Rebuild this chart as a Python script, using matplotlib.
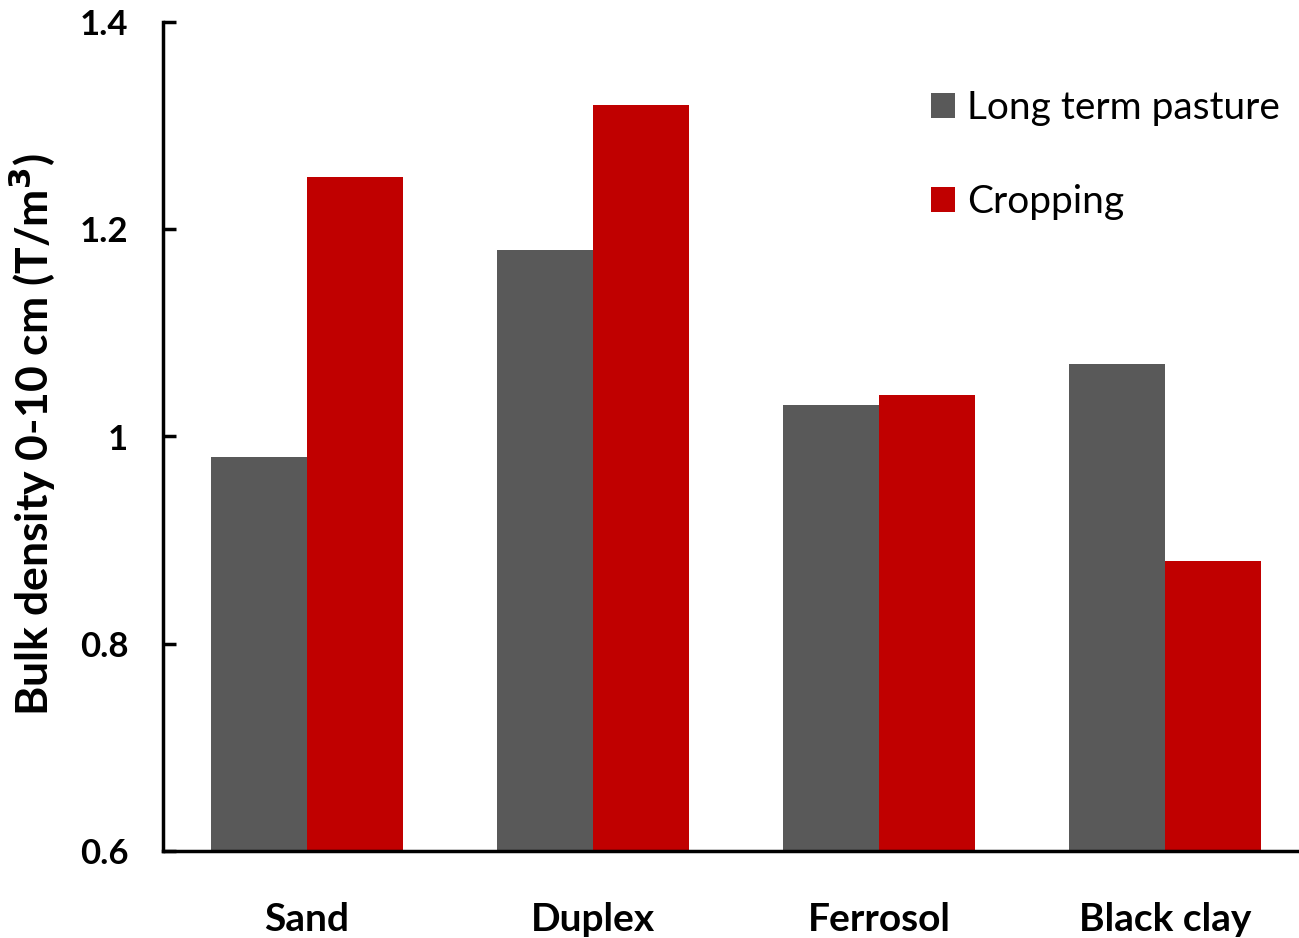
import numpy as np
import matplotlib
matplotlib.use('Agg')
import matplotlib.pyplot as plt

# data
soils = ['Sand', 'Duplex', 'Ferrosol', 'Black clay']
pasture = [0.98, 1.18, 1.03, 1.07]
cropping = [1.25, 1.32, 1.04, 0.88]

plt.rcParams['font.family'] = ['Lato', 'DejaVu Sans']

fig = plt.figure(figsize=(12.99, 9.38), dpi=100)
ax = fig.add_axes([163/1299, 87/938, 1 - 163/1299, 829/938])

x = np.arange(len(soils))
w = 0.336
ax.bar(x - w/2, pasture, w, bottom=0, color='#595959', label='Long term pasture')
ax.bar(x + w/2, cropping, w, bottom=0, color='#C00000', label='Cropping')

ax.set_ylim(0.6, 1.4)
ax.set_xlim(-0.503, 3.469)
ax.set_yticks([0.6, 0.8, 1.0, 1.2, 1.4])
ax.set_yticklabels(['0.6', '0.8', '1', '1.2', '1.4'])
ax.set_xticks(x)
ax.set_xticklabels(soils)

for s in ['top', 'right']:
    ax.spines[s].set_visible(False)
for s in ['left', 'bottom']:
    ax.spines[s].set_linewidth(2.5)

ax.tick_params(axis='y', direction='in', length=9, width=2.5, pad=25,
               labelsize=25)
ax.tick_params(axis='x', length=0, pad=37, labelsize=28)
for t in ax.get_xticklabels() + ax.get_yticklabels():
    t.set_fontweight('bold')

ax.set_ylabel('Bulk density 0-10 cm (T/m$^\\mathbf{3}$)', fontsize=32,
              fontweight='bold')
ax.yaxis.set_label_coords(-0.092, 0.502)

ax.legend(loc='upper left', bbox_to_anchor=(0.645, 0.96), frameon=False,
          fontsize=28, handlelength=0.62, handleheight=0.62,
          handletextpad=0.31, labelspacing=1.5)

fig.savefig('out.png', dpi=100)
